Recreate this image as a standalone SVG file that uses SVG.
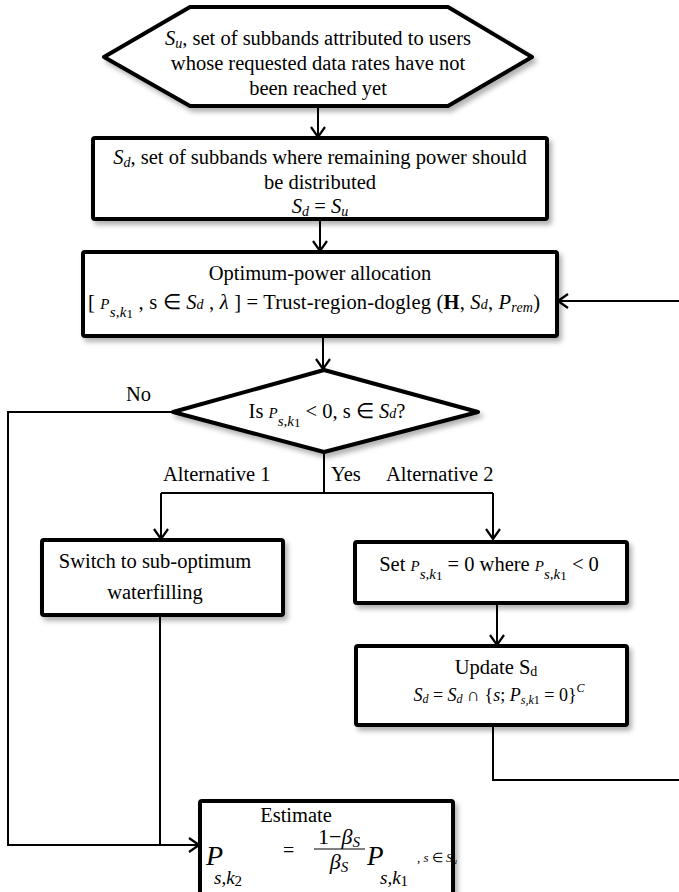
<svg xmlns="http://www.w3.org/2000/svg" width="679" height="892" viewBox="0 0 679 892">
<defs>
<filter id="sh" x="-10%" y="-10%" width="130%" height="140%"><feDropShadow dx="3" dy="4" stdDeviation="2.5" flood-color="#000" flood-opacity="0.3"/></filter>
<marker id="ah" viewBox="0 0 12 16" refX="11" refY="8" markerWidth="12" markerHeight="16" markerUnits="userSpaceOnUse" orient="auto"><path d="M1,1 L11,8 L1,15" fill="none" stroke="#000" stroke-width="2.2"/></marker>
</defs>
<style>
text{font-family:"Liberation Serif","Times New Roman",serif;font-size:20.5px;fill:#000}
.shape{fill:#fff;stroke:#000;stroke-width:4;stroke-linejoin:round;filter:url(#sh)}
.conn{fill:none;stroke:#000;stroke-width:2}
.i{font-style:italic}
.m{font-size:15px;font-style:italic}
.s{font-size:13px}
.sub{font-size:14px;font-style:italic}
</style>
<rect width="679" height="892" fill="#fff"/>

<g id="connectors">
<path class="conn" d="M318,106 L318,137" marker-end="url(#ah)"/>
<path class="conn" d="M320,219 L320,251" marker-end="url(#ah)"/>
<path class="conn" d="M323,336 L323,369" marker-end="url(#ah)"/>
<path class="conn" d="M173,412 L8,412 L8,845 L199,845" marker-end="url(#ah)"/>
<path class="conn" d="M324,452 L324,493"/>
<path class="conn" d="M161,493 L493,493"/>
<path class="conn" d="M161,493 L161,539" marker-end="url(#ah)"/>
<path class="conn" d="M493,493 L493,539" marker-end="url(#ah)"/>
<path class="conn" d="M160,615 L160,845"/>
<path class="conn" d="M497,603 L497,645" marker-end="url(#ah)"/>
<path class="conn" d="M493,725 L493,780 L679,780"/>
<path class="conn" d="M679,301 L558,301" marker-end="url(#ah)"/>
<text x="126" y="401">No</text>
<text x="163" y="481">Alternative 1</text>
<text x="331" y="481">Yes</text>
<text x="386" y="481">Alternative 2</text>
</g>

<g id="start">
<polygon class="shape" stroke-width="3.5" points="104,57 190,7 448,7 532,57 448,106 190,106"/>
<text x="318" y="45" text-anchor="middle"><tspan class="i">S</tspan><tspan class="sub" dy="3">u</tspan><tspan dy="-3">, set of subbands attributed to users</tspan></text>
<text x="318" y="70" text-anchor="middle">whose requested data rates have not</text>
<text x="318" y="95" text-anchor="middle">been reached yet</text>
</g>

<g id="init-sd">
<rect class="shape" x="93" y="138" width="454" height="81" rx="2"/>
<text x="320" y="164" text-anchor="middle"><tspan class="i">S</tspan><tspan class="sub" dy="3">d</tspan><tspan dy="-3">, set of subbands where remaining power should</tspan></text>
<text x="320" y="189" text-anchor="middle">be distributed</text>
<text x="320" y="213" text-anchor="middle"><tspan class="i">S</tspan><tspan class="sub" dy="3">d</tspan><tspan dy="-3"> = </tspan><tspan class="i">S</tspan><tspan class="sub" dy="3">u</tspan></text>
</g>

<g id="optimum">
<rect class="shape" x="83" y="252" width="474" height="84" rx="2"/>
<text x="320" y="280" text-anchor="middle">Optimum-power allocation</text>
<text x="314" y="309" text-anchor="middle" textLength="452" lengthAdjust="spacing">[ <tspan class="m">P</tspan><tspan class="m" dy="8">s,k</tspan><tspan class="s" dy="1">1</tspan><tspan dy="-9"> , s ∈ </tspan><tspan class="i">S</tspan><tspan class="sub">d</tspan> ,  <tspan class="i">λ</tspan> ] = Trust-region-dogleg (<tspan font-weight="bold">H</tspan>, <tspan class="i">S</tspan><tspan class="sub">d</tspan>, <tspan class="i">P</tspan><tspan class="sub" dy="3">rem</tspan><tspan dy="-3">)</tspan></text>
</g>

<g id="decision">
<polygon class="shape" points="324,370 478,412 324,452 173,412"/>
<text x="327" y="418" text-anchor="middle">Is <tspan class="m">P</tspan><tspan class="m" dy="8">s,k</tspan><tspan class="s" dy="1">1</tspan><tspan dy="-9"> &lt; 0, s ∈ </tspan><tspan class="i">S</tspan><tspan class="sub">d</tspan>?</text>
</g>

<g id="switch">
<rect class="shape" x="42" y="540" width="241" height="75" rx="2"/>
<text x="155" y="568" text-anchor="middle">Switch to sub-optimum</text>
<text x="155" y="599" text-anchor="middle">waterfilling</text>
</g>

<g id="set-zero">
<rect class="shape" x="355" y="542" width="272" height="61" rx="2"/>
<text x="489" y="571" text-anchor="middle">Set <tspan class="m">P</tspan><tspan class="m" dy="8">s,k</tspan><tspan class="s" dy="1">1</tspan><tspan dy="-9"> = 0 where </tspan><tspan class="m">P</tspan><tspan class="m" dy="8">s,k</tspan><tspan class="s" dy="1">1</tspan><tspan dy="-9"> &lt; 0</tspan></text>
</g>

<g id="update">
<rect class="shape" x="356" y="646" width="271" height="79" rx="2"/>
<text x="496" y="674" text-anchor="middle">Update S<tspan font-size="14" dy="2">d</tspan></text>
<text x="499" y="701" text-anchor="middle" style="font-size:18px"><tspan class="i">S</tspan><tspan class="i" font-size="12" dy="2">d</tspan><tspan dy="-2"> = </tspan><tspan class="i">S</tspan><tspan class="i" font-size="12" dy="2">d</tspan><tspan dy="-2"> ∩ {</tspan><tspan class="i">s</tspan>; <tspan class="i">P</tspan><tspan class="i" font-size="12" dy="3">s,k</tspan><tspan font-size="12">1</tspan><tspan dy="-3"> = 0}</tspan><tspan class="i" font-size="12" dy="-9">C</tspan></text>
</g>

<g id="estimate">
<rect class="shape" x="200" y="801" width="253" height="100" rx="2"/>
<text x="296" y="822" text-anchor="middle">Estimate</text>
<text x="206" y="865" class="i" style="font-size:28px">P</text>
<text x="214" y="884" class="i" style="font-size:19px">s,k<tspan font-style="normal" font-size="15" dy="2">2</tspan></text>
<text x="283" y="857" style="font-size:20px">=</text>
<text x="339" y="844" text-anchor="middle" style="font-size:22px">1−<tspan class="i">β</tspan><tspan class="i" font-size="15" dy="3">S</tspan></text>
<line x1="314" y1="849" x2="365" y2="849" stroke="#000" stroke-width="1"/>
<text x="339" y="869" text-anchor="middle" style="font-size:22px"><tspan class="i">β</tspan><tspan class="i" font-size="15" dy="3">S</tspan></text>
<text x="367" y="865" class="i" style="font-size:27px">P</text>
<text x="380" y="884" class="i" style="font-size:19px">s,k<tspan font-style="normal" font-size="15" dy="2">1</tspan></text>
<text x="417" y="862" class="i" style="font-size:13px"><tspan font-style="normal">, </tspan>s<tspan font-style="normal"> ∈ </tspan>S<tspan font-size="9" dy="2">u</tspan></text>
</g>
</svg>
